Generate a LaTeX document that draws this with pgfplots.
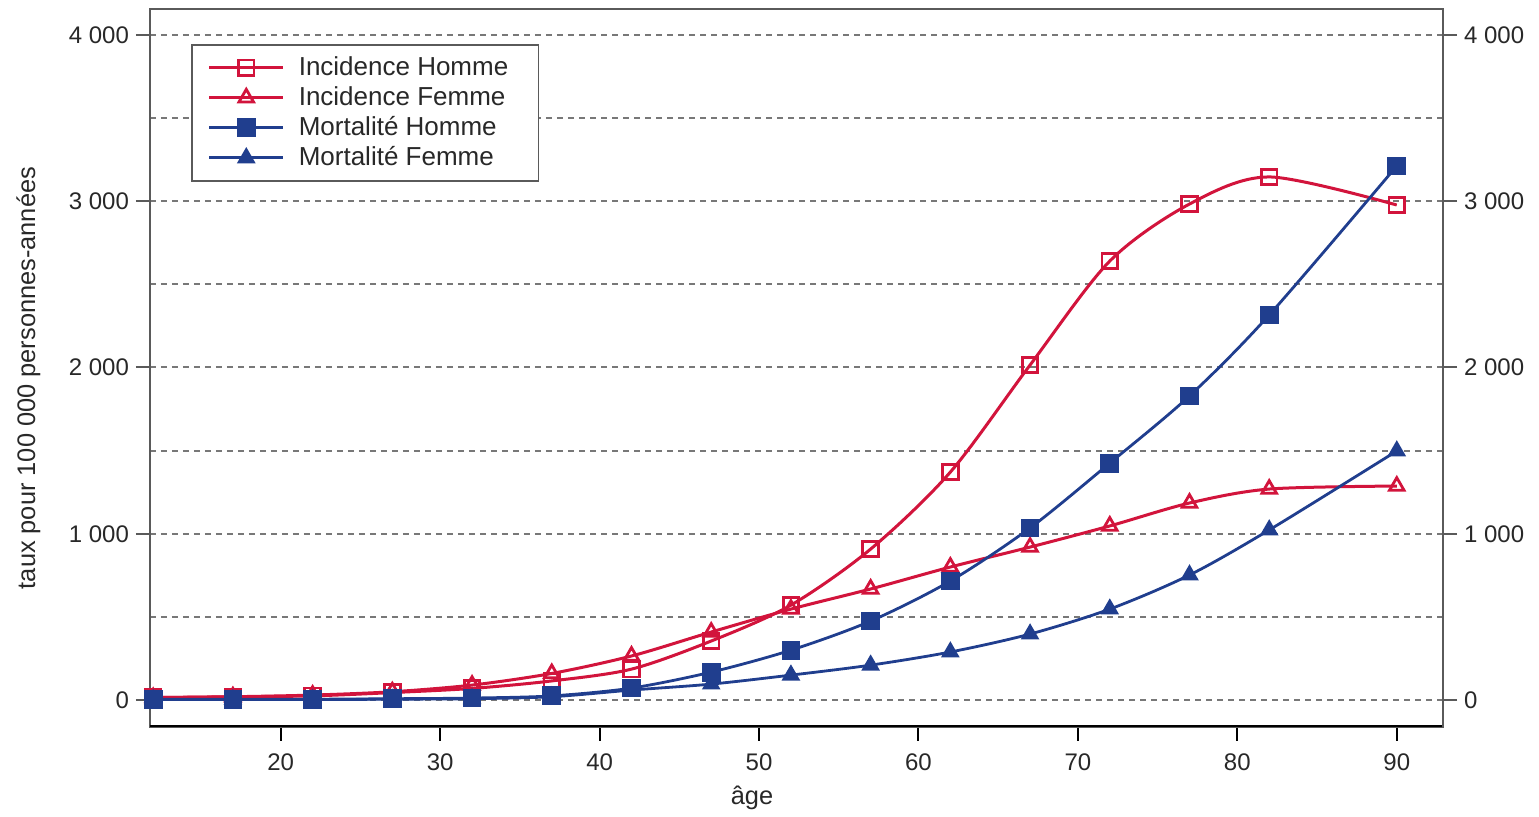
\documentclass[border=0pt]{standalone}
\usepackage{pgfplots}
\pgfplotsset{compat=1.18}
\usepackage{fontspec}
\setmainfont{Liberation Sans}
\definecolor{cred}{RGB}{210,20,60}
\definecolor{cblue}{RGB}{32,62,142}
\definecolor{txt}{RGB}{40,40,40}
\definecolor{spine}{RGB}{90,90,90}
\definecolor{gridc}{RGB}{120,120,120}

\pgfplotstableread{
x  ih    if    mh    mf
12 15    15    5     3
17 20    20    5     3
22 25    30    5     3
27 45    50    8     5
32 70    90    12    8
37 115   160   25    20
42 186   265   72    60
47 355   409   168   96
52 571   547   300   150
57 908   668   475   210
62 1371  800   716   289
67 2015  920   1035  397
72 2640  1047  1425  547
77 2983  1185  1829  752
82 3146  1269  2316  1023
90 2977  1287  3212  1498
}\data

\begin{document}
\begin{tikzpicture}
\pgfplotsset{
  common/.style={
    scale only axis, width=646.5pt, height=359pt,
    xmin=11.8, xmax=92.9, ymin=-162, ymax=4156,
    ytick={0,1000,2000,3000,4000},
    tick align=outside,
    /pgf/number format/assume math mode=true,
    /pgf/number format/1000 sep={\ },
    ticklabel style={font=\fontsize{12}{14}\selectfont, text=txt},
  }
}
\begin{axis}[common,
  axis line style={draw=spine, line width=1pt},
  xtick={20,30,...,90},
  xtick pos=bottom, ytick pos=left,
  minor ytick={500,1500,2500,3500},
  ymajorgrids, yminorgrids,
  major grid style={draw=gridc, line width=1pt, dash pattern=on 3pt off 2.5pt},
  minor grid style={draw=gridc, line width=1pt, dash pattern=on 3pt off 2.5pt},
  minor tick length=0pt,
  major tick length=7pt,
  y tick style={draw=spine, line width=1pt},
  x tick style={draw=black, line width=1pt},
  xticklabel style={yshift=-3pt},
  xlabel={âge},
  ylabel={taux pour 100 000 personnes-années},
  label style={font=\fontsize{12.7}{14}\selectfont, text=txt},
  x label style={at={(axis description cs:0.4656,0)}, anchor=north, yshift=-26pt},
  y label style={at={(axis description cs:-0.094,0.486)}, anchor=center, rotate=0},
  legend cell align=left,
  legend style={at={(0.0317,0.951)}, anchor=north west,
    draw=spine, line width=0.8pt,
    font=\fontsize{13}{15}\selectfont, text=txt,
    row sep=0pt, inner xsep=8pt, inner ysep=4pt,
    nodes={inner xsep=7pt}},
  legend image code/.code={\draw[mark repeat=2,mark phase=2] plot coordinates {(0pt,0pt)(18.5pt,0pt)(37pt,0pt)};},
]
\addplot[cred, line width=1.5pt, smooth, mark=square, mark size=3.9pt, mark options={solid, fill=white, line width=1.4pt}] table[x=x,y=ih] {\data};
\addlegendentry{Incidence Homme}
\addplot[cred, line width=1.5pt, smooth, mark=triangle, mark size=4.2pt, mark options={solid, fill=white, line width=1.4pt}] table[x=x,y=if] {\data};
\addlegendentry{Incidence Femme}
\addplot[cblue, line width=1.4pt, smooth, mark=square*, mark size=4pt, mark options={solid, fill=cblue}] table[x=x,y=mh] {\data};
\addlegendentry{Mortalité Homme}
\addplot[cblue, line width=1.4pt, smooth, mark=triangle*, mark size=4pt, mark options={solid, fill=cblue}] table[x=x,y=mf] {\data};
\addlegendentry{Mortalité Femme}
\draw[black, line width=2pt] (rel axis cs:0,0) -- (rel axis cs:1,0);
\end{axis}
\begin{axis}[common,
  axis x line=none,
  axis y line*=right,
  axis line style={draw=spine, line width=1pt, -},
  major tick length=7pt,
  y tick style={draw=spine, line width=1pt},
]
\end{axis}
\path (-75pt,-41.5pt) rectangle (694.5pt,363.5pt);
\end{tikzpicture}
\end{document}
